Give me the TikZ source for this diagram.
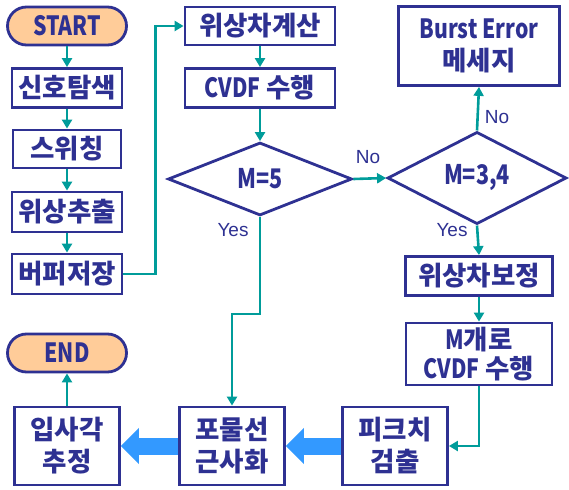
\documentclass[tikz,border=0pt]{standalone}
\usepackage{fontspec}
\setmainfont{Noto Sans CJK KR}
\newfontfamily\lab{Liberation Sans}
\usetikzlibrary{shapes.geometric,arrows.meta}
\definecolor{navy}{HTML}{2E3192}
\definecolor{tealc}{HTML}{009C9A}
\definecolor{peach}{HTML}{FFCC99}
\definecolor{bigblue}{HTML}{3399FF}
\newcommand{\nar}[1]{\scalebox{0.8}[1]{#1}}
\begin{document}
\begin{tikzpicture}[x=1pt,y=-1pt,
 box/.style={draw=navy, line width=2.8pt, fill=white, text=navy, font=\fontsize{26.5}{32}\selectfont\bfseries, inner sep=0pt, align=center},
 term/.style={box, rounded corners=19pt, fill=peach, minimum width=119pt, minimum height=38pt},
 dia/.style={draw=navy, line width=2.8pt, diamond, fill=white, text=navy, font=\fontsize{27}{30}\selectfont\bfseries, inner sep=0pt},
 conn/.style={draw=tealc, line width=2.6pt, -{Triangle[width=10pt,length=9pt]}},
 fat/.style={draw=bigblue, line width=17pt, -{Triangle[width=35pt,length=18pt]}},
 lbl/.style={text=navy, font=\lab\fontsize{19}{21}\selectfont, inner sep=0pt}
]
\useasboundingbox (0,0) rectangle (569,489);
\node[term] (start) at (67,26) {\nar{START}};
\node[box, minimum width=110pt, minimum height=39pt] (s1) at (67,88) {신호탐색};
\node[box, minimum width=108pt, minimum height=38pt] (s2) at (67,149) {스위칭};
\node[box, minimum width=110pt, minimum height=40pt] (s3) at (67,212) {위상추출};
\node[box, minimum width=110pt, minimum height=40pt] (s4) at (67,274) {버퍼저장};
\node[box, minimum width=150pt, minimum height=38pt] (c1) at (260,26) {위상차계산};
\node[box, minimum width=150pt, minimum height=39pt] (c2) at (260,88) {\nar{CVDF} 수행};
\node[dia, minimum width=184pt, minimum height=73pt] (m5) at (260,179) {\nar{M=5}};
\node[dia, minimum width=179pt, minimum height=73pt] (m34) at (477,178) {\nar{M=3,4}};
\node[box, minimum width=161pt, minimum height=79pt] (burst) at (479,46) {\nar{Burst Error}\\메세지};
\node[box, minimum width=147pt, minimum height=39pt] (pc) at (479,276) {위상차보정};
\node[box, minimum width=146pt, minimum height=62pt, font=\fontsize{26.5}{29}\selectfont\bfseries] (mcv) at (479,354) {\nar{M}개로\\\nar{CVDF} 수행};
\node[box, minimum width=105pt, minimum height=78pt] (pk) at (395,446) {피크치\\검출};
\node[box, minimum width=105pt, minimum height=78pt] (pob) at (232,446) {포물선\\근사화};
\node[box, minimum width=105pt, minimum height=78pt] (ip) at (67,446) {입사각\\추정};
\node[term] (end) at (67,353) {\nar{END}};

\draw[conn] (start) -- (s1);
\draw[conn] (s1) -- (s2);
\draw[conn] (s2) -- (s3);
\draw[conn] (s3) -- (s4);
\draw[conn] (s4.east) -- ++(32,0) |- (c1.west);
\draw[conn] (c1) -- (c2);
\draw[conn] (c2) -- (m5.north);
\draw[conn] (m5.east) -- (m34.west);
\draw[conn] (m34.north) -- (burst.south);
\draw[conn] (m34.south) -- (pc.north);
\draw[conn] (pc) -- (mcv);
\draw[conn] (mcv.south) |- (pk.east);
\draw[conn] (m5.south) -- ++(0,97) -| (pob.north);
\draw[conn] (ip) -- (end);
\draw[fat] (pk.west) -- (pob.east);
\draw[fat] (pob.west) -- (ip.east);

\node[lbl] (no1) at (368,157) {No};
\node[lbl] (no2) at (497,117) {No};
\node[lbl] (yes1) at (233,230) {Yes};
\node[lbl] (yes2) at (452,230) {Yes};
\end{tikzpicture}
\end{document}
